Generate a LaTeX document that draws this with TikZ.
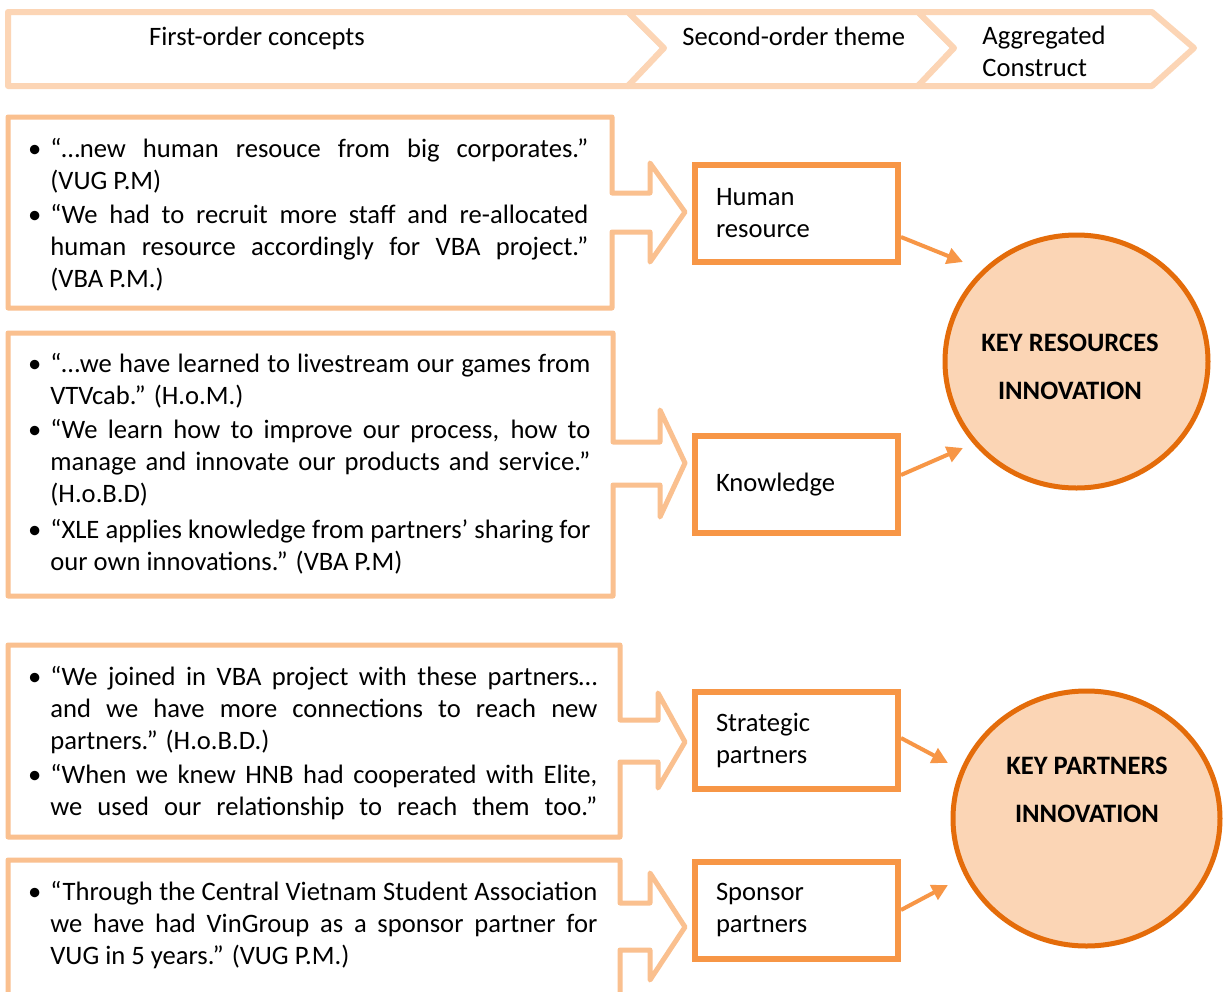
\documentclass[tikz,border=0pt]{standalone}
\usepackage{fontspec}
\setmainfont{Carlito}
\usetikzlibrary{arrows.meta,calc,shapes.geometric}
\definecolor{hdr}{HTML}{FCD5B5}
\definecolor{qbox}{HTML}{FAC08F}
\definecolor{themec}{HTML}{F79646}
\definecolor{circc}{HTML}{E46C0A}
\definecolor{circfill}{HTML}{FBD5B5}
\newcommand\jl[2]{\makebox[#1][s]{#2}}
\newcommand\bul{\llap{•\hskip 4.5pt}}
\begin{document}
\begin{tikzpicture}[x=0.5pt,y=-0.5pt,
  hdrshape/.style={draw=hdr,line width=3pt,line join=round,fill=white},
  qshape/.style={draw=qbox,line width=2.5pt,line join=round},
  ql/.style={anchor=base west,inner sep=0pt,font=\fontsize{13.3}{16}\selectfont},
  themebox/.style={draw=themec,line width=3pt,minimum width=101.5pt,minimum height=48.5pt,text width=80.5pt,inner xsep=10.5pt,align=left,font=\fontsize{13.3}{16}\selectfont},
  keycirc/.style={ellipse,draw=circc,fill=circfill,line width=2.5pt,inner sep=0pt},
  keytext/.style={align=center,inner sep=0pt,font=\fontsize{13.3}{24}\selectfont\bfseries},
  link/.style={draw=themec,line width=2pt,-{Triangle[length=8pt,width=8pt]}}
]
\fill[white] (0,0) rectangle (1223,992);
\useasboundingbox (0,0) rectangle (1223,992);
\clip (0,0) rectangle (1223,992);

% header chevrons
\draw[hdrshape] (8,12) -- (628,12) -- (664,48) -- (628,86) -- (8,86) -- cycle;
\draw[hdrshape] (628,12) -- (918,12) -- (954,48) -- (918,86) -- (628,86) -- (664,48) -- cycle;
\draw[hdrshape] (918,12) -- (1152,12) -- (1194,48) -- (1152,86) -- (918,86) -- (954,48) -- cycle;
\node[ql,anchor=base] (h1) at (257,45) {First-order concepts};
\node[ql] (h2) at (682,45) {Second-order theme};
\node[ql] (h3) at (982,44) {Aggregated};
\node[ql] (h4) at (982,76) {Construct};

% quote boxes with block arrows
\draw[qshape] (8,117) -- (612,117) -- (612,193) -- (650,193) -- (650,163) -- (685,212) -- (650,262) -- (650,232) -- (612,232) -- (612,308) -- (8,308) -- cycle;
\draw[qshape] (8,333) -- (613,333) -- (613,442) -- (660,442) -- (660,410) -- (685,463) -- (660,517) -- (660,485) -- (613,485) -- (613,596) -- (8,596) -- cycle;
\draw[qshape] (8,645) -- (620,645) -- (620,720) -- (658,720) -- (658,693) -- (685,742) -- (658,788) -- (658,762) -- (620,762) -- (620,837) -- (8,837) -- cycle;
\draw[qshape] (8,1010) -- (8,860) -- (620,860) -- (620,903) -- (650,903) -- (650,873) -- (685,927) -- (650,980) -- (650,950) -- (620,950) -- (620,1010);

% box 1 text
\node[ql] (q1a) at (50,157) {\bul\jl{269pt}{“…new human resouce from big corporates.”}};
\node[ql] (q1b) at (50,189) {(VUG P.M)};
\node[ql] (q1c) at (50,223) {\bul\jl{269pt}{“We had to recruit more staff and re-allocated}};
\node[ql] (q1d) at (50,255) {\jl{269pt}{human resource accordingly for VBA project.”}};
\node[ql] (q1e) at (50,287) {(VBA P.M.)};
% box 2 text
\node[ql] (q2a) at (50,372) {\bul\jl{270pt}{“…we have learned to livestream our games from}};
\node[ql] (q2b) at (50,404) {VTVcab.” (H.o.M.)};
\node[ql] (q2c) at (50,438) {\bul\jl{270pt}{“We learn how to improve our process, how to}};
\node[ql] (q2d) at (50,470) {\jl{270pt}{manage and innovate our products and service.”}};
\node[ql] (q2e) at (50,502) {(H.o.B.D)};
\node[ql] (q2f) at (50,538) {\bul\jl{270pt}{“XLE applies knowledge from partners’ sharing for}};
\node[ql] (q2g) at (50,570) {our own innovations.” (VBA P.M)};
% box 3 text
\node[ql] (q3a) at (50,685) {\bul\jl{273.5pt}{“We joined in VBA project with these partners…}};
\node[ql] (q3b) at (50,717) {\jl{273.5pt}{and we have more connections to reach new}};
\node[ql] (q3c) at (50,749) {partners.” (H.o.B.D.)};
\node[ql] (q3d) at (50,783) {\bul\jl{273.5pt}{“When we knew HNB had cooperated with Elite,}};
\node[ql] (q3e) at (50,815) {\jl{273.5pt}{we used our relationship to reach them too.”}};
% box 4 text
\node[ql] (q4a) at (50,900) {\bul\jl{273.5pt}{“Through the Central Vietnam Student Association}};
\node[ql] (q4b) at (50,932) {\jl{273.5pt}{we have had VinGroup as a sponsor partner for}};
\node[ql] (q4c) at (50,964) {VUG in 5 years.” (VUG P.M.)};

% theme boxes
\node[themebox] (hr) at (796.5,213.5) {Human\\resource};
\node[themebox] (kn) at (796.5,484.5) {Knowledge};
\node[themebox] (sp) at (796.5,740.5) {Strategic\\partners};
\node[themebox] (sn) at (796.5,910) {Sponsor\\partners};

% aggregated constructs
\node[keycirc,minimum width=131.5pt,minimum height=126.5pt] (kr) at (1076.5,361.5) {};
\node[keytext] (krt) at (1070,367) {KEY RESOURCES\\INNOVATION};
\node[keycirc,minimum width=133.5pt,minimum height=127.5pt] (kp) at (1086.5,818.5) {};
\node[keytext] (kpt) at (1087,790) {KEY PARTNERS\\INNOVATION};

% links
\coordinate (e1) at (963,262);
\coordinate (e2) at (963,448);
\coordinate (e3) at (948,763);
\coordinate (e4) at (948,885);
\draw[link] ([yshift=-11.75pt]hr.east) -- (e1);
\draw[link] ([yshift=4.75pt]kn.east) -- (e2);
\draw[link] ([yshift=1.25pt]sp.east) -- (e3);
\draw[link] (sn.east) -- (e4);
\end{tikzpicture}
\end{document}
